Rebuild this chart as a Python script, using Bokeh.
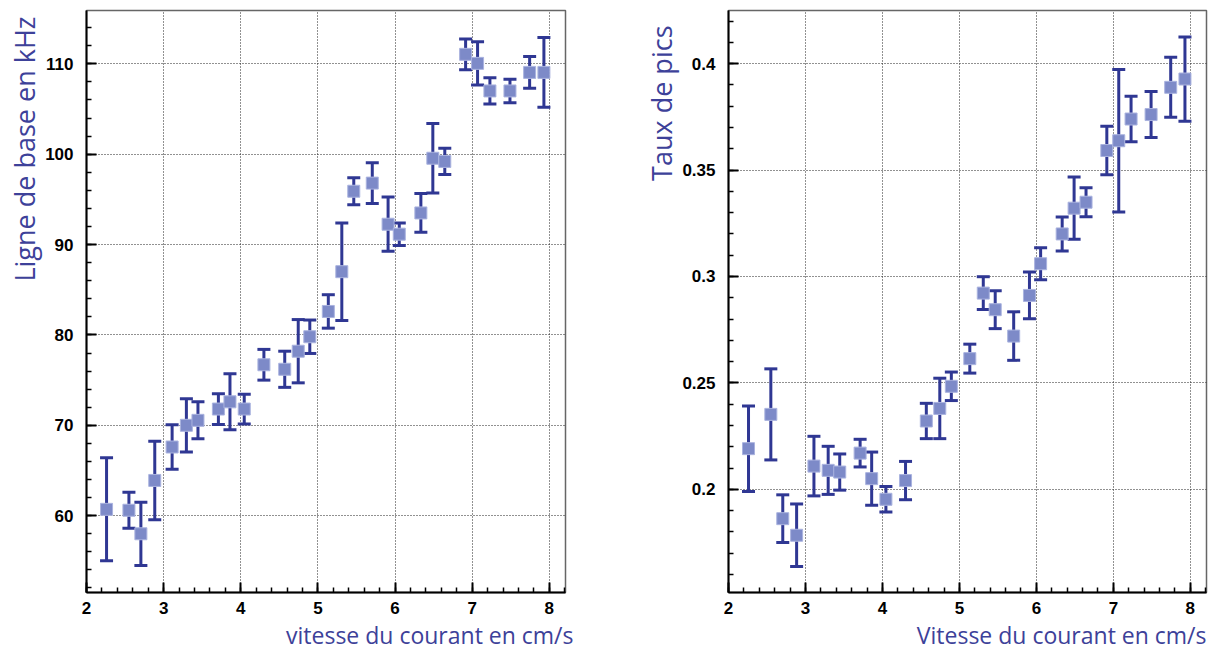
from bokeh.plotting import figure
from bokeh.layouts import row
from bokeh.models import SingleIntervalTicker, NumeralTickFormatter, Title, Range1d, ColumnDataSource
from bokeh.embed import file_html
from bokeh.resources import INLINE

# shared x values (current speed, cm/s)
vitesse = [2.26, 2.55, 2.705, 2.885, 3.11, 3.295, 3.445, 3.71, 3.86, 4.045, 4.30, 4.57, 4.745, 4.895,
           5.135, 5.31, 5.465, 5.705, 5.91, 6.055, 6.335, 6.49, 6.645, 6.915, 7.07, 7.23, 7.49, 7.745, 7.93]

# left panel: baseline in kHz
ligne_base = [60.7, 60.6, 58.0, 63.9, 67.6, 70.0, 70.55, 71.8, 72.6, 71.8, 76.7, 76.2, 78.2, 79.8,
              82.6, 87.0, 95.9, 96.8, 92.25, 91.15, 93.5, 99.55, 99.2, 111.05, 110.05, 107.0, 107.0, 109.05, 109.05]
ligne_err = [5.7, 2.0, 3.5, 4.35, 2.45, 2.95, 2.05, 1.7, 3.1, 1.65, 1.7, 2.0, 3.5, 1.85,
             1.85, 5.4, 1.5, 2.25, 3.0, 1.25, 2.15, 3.85, 1.45, 1.7, 2.4, 1.45, 1.3, 1.75, 3.85]

# right panel: peak rate
taux = [0.2191, 0.2352, 0.1862, 0.1784, 0.2109, 0.2089, 0.2081, 0.2170, 0.2050, 0.1953, 0.2041, 0.2321, 0.238, 0.2484,
        0.2614, 0.2922, 0.2844, 0.272, 0.2911, 0.306, 0.32, 0.3321, 0.3349, 0.3592, 0.3638, 0.374, 0.3761, 0.3889, 0.3928]
taux_err = [0.0201, 0.0214, 0.0112, 0.0147, 0.014, 0.0113, 0.0085, 0.0065, 0.0125, 0.006, 0.009, 0.0083, 0.0142, 0.0067,
            0.0068, 0.0077, 0.0089, 0.0114, 0.011, 0.0075, 0.008, 0.0146, 0.0068, 0.0114, 0.0335, 0.0107, 0.0108, 0.0141, 0.0198]

xlabels = ["vitesse du courant en cm/s", "Vitesse du courant en cm/s"]
ylabels = ["Ligne de base en kHz", "Taux de pics"]

BAR = "#2f3793"
FILL = "#7d8ac8"
LABEL = "#3d4199"
TICKFONT = "Liberation Sans"
LABELFONT = "Open Sans"


def panel(x, y, err, yr, yint, xlab, ylab, w, bl, bt, br, xoff, yoff, fmt=None):
    p = figure(width=w, height=650, min_border_left=bl, min_border_top=bt,
               min_border_right=br, min_border_bottom=0,
               x_range=Range1d(2, 8.21), y_range=Range1d(*yr),
               output_backend="svg", toolbar_location=None)
    src = ColumnDataSource(dict(x=x, y=y,
                                lo=[v - e for v, e in zip(y, err)],
                                hi=[v + e for v, e in zip(y, err)]))
    p.segment(x0="x", y0="lo", x1="x", y1="hi", source=src, line_color=BAR, line_width=3)
    p.scatter(x="x", y="hi", source=src, marker="dash", size=13, line_color=BAR, line_width=3)
    p.scatter(x="x", y="lo", source=src, marker="dash", size=13, line_color=BAR, line_width=3)
    p.scatter(x="x", y="y", source=src, marker="square", size=12, fill_color=FILL,
              line_color="#aab3df", line_width=1)

    p.xaxis.ticker = SingleIntervalTicker(interval=1, num_minor_ticks=5)
    p.yaxis.ticker = SingleIntervalTicker(interval=yint, num_minor_ticks=5)
    if fmt:
        p.yaxis.formatter = NumeralTickFormatter(format=fmt)
    for ax in (p.xaxis, p.yaxis):
        ax.axis_line_color = "black"
        ax.axis_line_width = 2
        ax.major_tick_in = 10
        ax.major_tick_out = 0
        ax.minor_tick_in = 5
        ax.minor_tick_out = 0
        ax.major_tick_line_color = "black"
        ax.minor_tick_line_color = "black"
        ax.major_tick_line_width = 2
        ax.minor_tick_line_width = 1.5
        ax.major_label_text_font = TICKFONT
        ax.major_label_text_font_style = "bold"
        ax.major_label_text_font_size = "17px"
        ax.major_label_text_color = "black"
    p.xaxis.major_label_standoff = 9
    p.yaxis.major_label_standoff = 13
    for g in (p.xgrid, p.ygrid):
        g.grid_line_color = "#222222"
        g.grid_line_dash = "1 2"
        g.grid_line_width = 1
    p.outline_line_color = "#666666"
    p.outline_line_width = 1.5

    tx = Title(text=xlab, align="right", text_font=LABELFONT, text_font_style="normal",
               text_font_size="23px", text_color=LABEL, offset=xoff, standoff=0)
    p.add_layout(tx, "below")
    ty = Title(text=ylab, align="right", text_font=LABELFONT, text_font_style="normal",
               text_font_size="27px", text_color=LABEL, offset=yoff, standoff=0)
    p.add_layout(ty, "left")
    return p


p1 = panel(vitesse, ligne_base, ligne_err, (51.5, 115.9), 10, xlabels[0], ylabels[0],
           640, 86, 9, 75, -8, 6)
p2 = panel(vitesse, taux, taux_err, (0.1515, 0.425), 0.05, xlabels[1], ylabels[1],
           575, 87, 10, 9, 0, 15, "0.[00]")

p = row(p1, p2)
open("out.html", "w").write(file_html(p, INLINE))
